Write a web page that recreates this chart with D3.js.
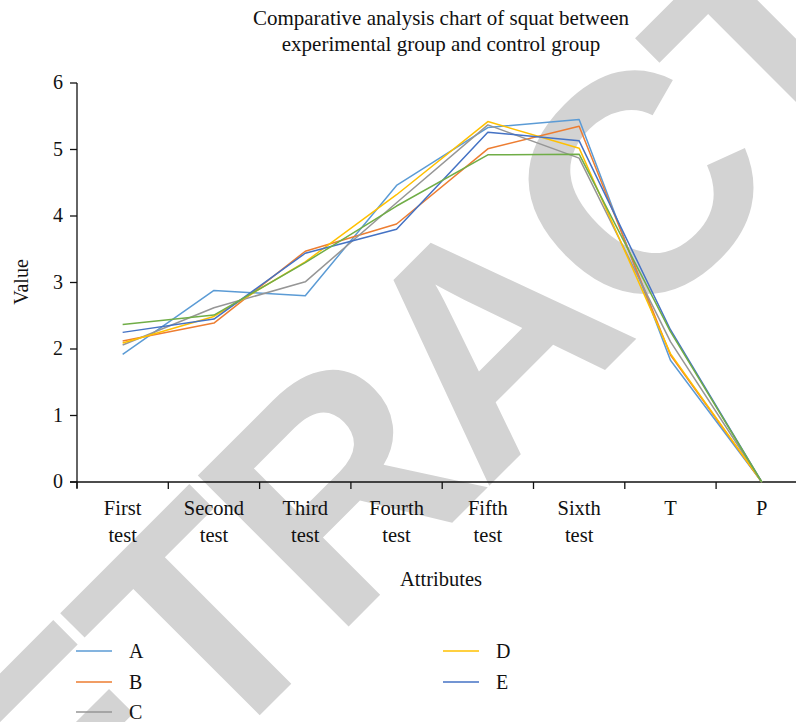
<!DOCTYPE html>
<html>
<head>
<meta charset="utf-8">
<script src="https://cdn.jsdelivr.net/npm/d3@7"></script>
<style>
  body { margin: 0; background: #fff; }
  svg { display: block; }
  text { font-family: "Liberation Serif", "DejaVu Serif", serif; fill: #111; }
</style>
</head>
<body>
<svg id="chart"></svg>
<script>
// data
var categories = ["First test", "Second test", "Third test", "Fourth test", "Fifth test", "Sixth test", "T", "P"];
var seriesNames = ["A", "B", "C", "D", "E", "F"];
var valuesA = [1.92, 2.88, 2.80, 4.46, 5.33, 5.45, 1.83, 0];
var valuesB = [2.12, 2.39, 3.47, 3.88, 5.01, 5.35, 1.91, 0];
var valuesC = [2.06, 2.62, 3.01, 4.20, 5.37, 4.87, 2.11, 0];
var valuesD = [2.09, 2.49, 3.31, 4.32, 5.42, 5.02, 1.93, 0];
var valuesE = [2.25, 2.45, 3.44, 3.80, 5.26, 5.13, 2.29, 0];
var valuesF = [2.37, 2.51, 3.30, 4.15, 4.92, 4.93, 2.26, 0];
var yTicks = [0, 1, 2, 3, 4, 5, 6];
var legendNames = ["A", "B", "C", "D", "E"];

const width = 796,
  height = 722,
  x0 = 77,
  bandW = 91.3,
  yTop = 83,
  yBottom = 482;

var colors = ["#5B9BD5", "#ED7D31", "#969696", "#FFC000", "#4472C4", "#70AD47"];
var allValues = [valuesA, valuesB, valuesC, valuesD, valuesE, valuesF];

var svg = d3.select("#chart").attr("width", width).attr("height", height);

// watermark
svg
  .append("text")
  .attr("transform", "translate(-79,1054) rotate(-45)")
  .style("font-family", "'Liberation Sans', Arial, sans-serif")
  .style("font-weight", "bold")
  .style("font-size", "310px")
  .style("letter-spacing", "-12px")
  .style("fill", "#d3d3d3")
  .text("RETRACTED");

var xScale = d3
  .scaleBand()
  .domain(categories)
  .range([x0, x0 + bandW * categories.length])
  .padding(0);

var yScale = d3.scaleLinear().domain([0, 6]).range([yBottom, yTop]);

// y axis
svg
  .append("line")
  .attr("x1", x0)
  .attr("x2", x0)
  .attr("y1", yScale(6))
  .attr("y2", yScale(0) + 6)
  .attr("stroke", "#111")
  .attr("stroke-width", 1.3);

svg
  .selectAll(".y-tick")
  .data(yTicks)
  .enter()
  .append("line")
  .attr("class", "y-tick")
  .attr("x1", x0 - 7)
  .attr("x2", x0)
  .attr("y1", (d) => yScale(d))
  .attr("y2", (d) => yScale(d))
  .attr("stroke", "#111")
  .attr("stroke-width", 1.3);

svg
  .selectAll(".y-label")
  .data(yTicks)
  .enter()
  .append("text")
  .attr("class", "y-label")
  .attr("x", x0 - 14)
  .attr("y", (d) => yScale(d) + 6)
  .attr("text-anchor", "end")
  .style("font-size", "20px")
  .text((d) => d);

// x axis
svg
  .append("line")
  .attr("x1", x0 - 7)
  .attr("x2", width)
  .attr("y1", yBottom)
  .attr("y2", yBottom)
  .attr("stroke", "#111")
  .attr("stroke-width", 1.3);

svg
  .selectAll(".x-tick")
  .data(categories)
  .enter()
  .append("line")
  .attr("class", "x-tick")
  .attr("x1", (d) => xScale(d))
  .attr("x2", (d) => xScale(d))
  .attr("y1", yBottom)
  .attr("y2", yBottom + 7)
  .attr("stroke", "#111")
  .attr("stroke-width", 1.3);

var xLabels = svg
  .selectAll(".x-label")
  .data(categories)
  .enter()
  .append("text")
  .attr("class", "x-label")
  .attr("text-anchor", "middle")
  .style("font-size", "20.5px");

xLabels.each(function (d) {
  var words = d.split(" ");
  var t = d3.select(this);
  words.forEach(function (w, i) {
    t.append("tspan")
      .attr("x", xScale(d) + xScale.bandwidth() / 2)
      .attr("y", 515 + i * 27)
      .text(w);
  });
});

// axis titles
svg
  .append("text")
  .attr("x", 441)
  .attr("y", 586)
  .attr("text-anchor", "middle")
  .style("font-size", "20.5px")
  .text("Attributes");

svg
  .append("text")
  .attr("transform", "translate(28,282) rotate(-90)")
  .attr("text-anchor", "middle")
  .style("font-size", "20px")
  .text("Value");

// title
var title = svg
  .append("text")
  .attr("text-anchor", "middle")
  .style("font-size", "21px");
title.append("tspan").attr("x", 441).attr("y", 25).text("Comparative analysis chart of squat between");
title.append("tspan").attr("x", 441).attr("y", 51).text("experimental group and control group");

// lines
var line = d3
  .line()
  .x((d, i) => xScale(categories[i]) + xScale.bandwidth() / 2)
  .y((d) => yScale(d));

svg
  .append("g")
  .selectAll("path")
  .data(allValues)
  .enter()
  .append("path")
  .attr("d", line)
  .attr("fill", "none")
  .attr("stroke", (d, i) => colors[i])
  .attr("stroke-width", 1.5)
  .attr("stroke-linejoin", "round");

// legend
var legendPos = [
  { x: 76, y: 651 },
  { x: 76, y: 682 },
  { x: 76, y: 712 },
  { x: 443, y: 651 },
  { x: 443, y: 682 }
];

var legend = svg
  .append("g")
  .selectAll("g")
  .data(legendNames)
  .enter()
  .append("g")
  .attr("transform", (d, i) => "translate(" + legendPos[i].x + "," + legendPos[i].y + ")");

legend
  .append("line")
  .attr("x1", 0)
  .attr("x2", 36)
  .attr("y1", 0)
  .attr("y2", 0)
  .attr("stroke", (d, i) => colors[i])
  .attr("stroke-width", 1.5);

legend
  .append("text")
  .attr("x", 53)
  .attr("y", 7)
  .style("font-size", "20px")
  .text((d) => d);
</script>
</body>
</html>
